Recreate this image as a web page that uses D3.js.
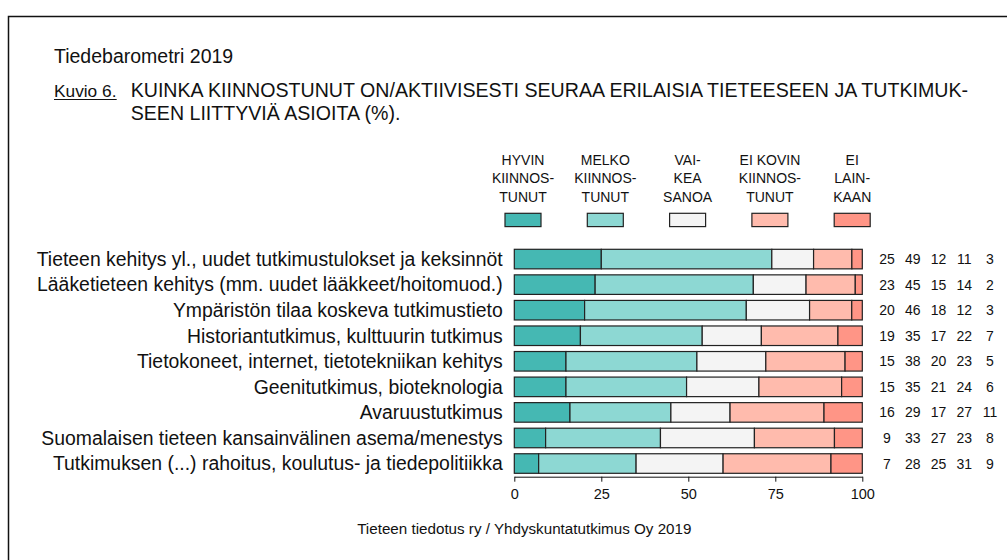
<!DOCTYPE html>
<html>
<head>
<meta charset="utf-8">
<script src="https://cdn.jsdelivr.net/npm/d3@7"></script>
<style>
  html, body { margin: 0; padding: 0; background: #fff; }
  svg { display: block; font-family: "Liberation Sans", Arial, sans-serif; }
</style>
</head>
<body>
<svg id="chart"></svg>
<script>
// rows, top to bottom
const categories = [
    "Tieteen kehitys yl., uudet tutkimustulokset ja keksinnöt",
    "Lääketieteen kehitys (mm. uudet lääkkeet/hoitomuod.)",
    "Ympäristön tilaa koskeva tutkimustieto",
    "Historiantutkimus, kulttuurin tutkimus",
    "Tietokoneet, internet, tietotekniikan kehitys",
    "Geenitutkimus, bioteknologia",
    "Avaruustutkimus",
    "Suomalaisen tieteen kansainvälinen asema/menestys",
    "Tutkimuksen (...) rahoitus, koulutus- ja tiedepolitiikka"
];

const hyvin      = [25, 23, 20, 19, 15, 15, 16,  9,  7];
const melko      = [49, 45, 46, 35, 38, 35, 29, 33, 28];
const vaikea     = [12, 15, 18, 17, 20, 21, 17, 27, 25];
const eiKovin    = [11, 14, 12, 22, 23, 24, 27, 23, 31];
const eiLainkaan = [ 3,  2,  3,  7,  5,  6, 11,  8,  9];

const seriesKeys = ["hyvin", "melko", "vaikea", "eiKovin", "eiLainkaan"];
const legendLabels = [
    ["HYVIN", "KIINNOS-", "TUNUT"],
    ["MELKO", "KIINNOS-", "TUNUT"],
    ["VAI-", "KEA", "SANOA"],
    ["EI KOVIN", "KIINNOS-", "TUNUT"],
    ["EI", "LAIN-", "KAAN"]
];
const xTicks = [0, 25, 50, 75, 100];

const colors = ["#45b8b3", "#8dd8d3", "#f4f4f4", "#ffbbad", "#ff9586"];

const width = 1007, height = 560;

const svg = d3.select("#chart")
    .attr("width", width)
    .attr("height", height);

// frame (left and top edge only)
svg.append("path")
    .attr("d", "M8.5," + height + "V16.5H" + width)
    .attr("fill", "none")
    .attr("stroke", "#111")
    .attr("stroke-width", 1.5);

// titles
svg.append("text")
    .attr("x", 54).attr("y", 63)
    .attr("font-size", 19.5)
    .attr("fill", "#111")
    .text("Tiedebarometri 2019");

svg.append("text")
    .attr("x", 54).attr("y", 96.5)
    .attr("font-size", 17.3)
    .attr("fill", "#111")
    .text("Kuvio 6.");
svg.append("line")
    .attr("x1", 54).attr("x2", 116.7)
    .attr("y1", 99.5).attr("y2", 99.5)
    .attr("stroke", "#111").attr("stroke-width", 1);

const heading = svg.append("text")
    .attr("font-size", 19.6)
    .attr("fill", "#111");
heading.append("tspan").attr("x", 130.7).attr("y", 96.5)
    .text("KUINKA KIINNOSTUNUT ON/AKTIIVISESTI SEURAA ERILAISIA TIETEESEEN JA TUTKIMUK-");
heading.append("tspan").attr("x", 130.7).attr("y", 120)
    .text("SEEN LIITTYVIÄ ASIOITA (%).");

// data table for the stack
const rows = categories.map((c, i) => ({
    category: c,
    hyvin: hyvin[i],
    melko: melko[i],
    vaikea: vaikea[i],
    eiKovin: eiKovin[i],
    eiLainkaan: eiLainkaan[i]
}));

const stacked = d3.stack()
    .keys(seriesKeys)
    .offset(d3.stackOffsetExpand)(rows);

const x = d3.scaleLinear()
    .domain([0, 1])
    .range([514.3, 862.3]);

const y = d3.scaleBand()
    .domain(categories)
    .range([249.3, 473.3])
    .paddingInner(0.235)
    .paddingOuter(0);

const color = d3.scaleOrdinal()
    .domain(seriesKeys)
    .range(colors);

// bars
svg.append("g")
    .selectAll("g")
    .data(stacked)
    .join("g")
    .attr("fill", d => color(d.key))
    .selectAll("rect")
    .data(d => d)
    .join("rect")
    .attr("x", d => x(d[0]))
    .attr("y", d => y(d.data.category))
    .attr("width", d => x(d[1]) - x(d[0]))
    .attr("height", y.bandwidth())
    .attr("stroke", "#222")
    .attr("stroke-width", 1.2);

// row labels
svg.append("g")
    .selectAll("text")
    .data(categories)
    .join("text")
    .attr("x", 502.7)
    .attr("y", d => y(d) + y.bandwidth() / 2)
    .attr("dy", "0.35em")
    .attr("text-anchor", "end")
    .attr("font-size", 19.4)
    .attr("fill", "#111")
    .text(d => d);

// value columns on the right
const col = d3.scalePoint()
    .domain(seriesKeys)
    .range([887, 990]);

svg.append("g")
    .selectAll("g")
    .data(rows)
    .join("g")
    .attr("transform", d => "translate(0," + (y(d.category) + y.bandwidth() / 2) + ")")
    .selectAll("text")
    .data(d => seriesKeys.map(k => ({ key: k, value: d[k] })))
    .join("text")
    .attr("x", d => col(d.key))
    .attr("dy", "0.36em")
    .attr("text-anchor", "middle")
    .attr("font-size", 14)
    .attr("fill", "#111")
    .text(d => d.value);

// x axis
const xAxis = d3.axisBottom(x)
    .tickValues(xTicks.map(t => t / 100))
    .tickFormat(d => Math.round(d * 100))
    .tickSize(5)
    .tickSizeOuter(0)
    .tickPadding(7.5);

const axisG = svg.append("g")
    .attr("transform", "translate(0,476.7)")
    .call(xAxis);
axisG.selectAll("text")
    .attr("font-size", 14.5)
    .attr("font-family", "\"Liberation Sans\", Arial, sans-serif")
    .attr("fill", "#111");
axisG.selectAll("path, line").attr("stroke", "#111");

// legend
const legend = svg.append("g")
    .selectAll("g")
    .data(seriesKeys)
    .join("g")
    .attr("transform", (d, i) => "translate(" + (523 + i * 82.3) + ",0)");

legend.append("rect")
    .attr("x", -18).attr("y", 213.3)
    .attr("width", 36).attr("height", 13.3)
    .attr("fill", d => color(d))
    .attr("stroke", "#222")
    .attr("stroke-width", 1.2);

legend.append("text")
    .attr("text-anchor", "middle")
    .attr("font-size", 14)
    .attr("fill", "#111")
    .selectAll("tspan")
    .data((d, i) => legendLabels[i])
    .join("tspan")
    .attr("x", 0)
    .attr("y", (d, j) => 165 + j * 18.3)
    .text(d => d);

// source
svg.append("text")
    .attr("x", 524.3).attr("y", 534.3)
    .attr("text-anchor", "middle")
    .attr("font-size", 15.2)
    .attr("fill", "#111")
    .text("Tieteen tiedotus ry / Yhdyskuntatutkimus Oy 2019");
</script>
</body>
</html>
